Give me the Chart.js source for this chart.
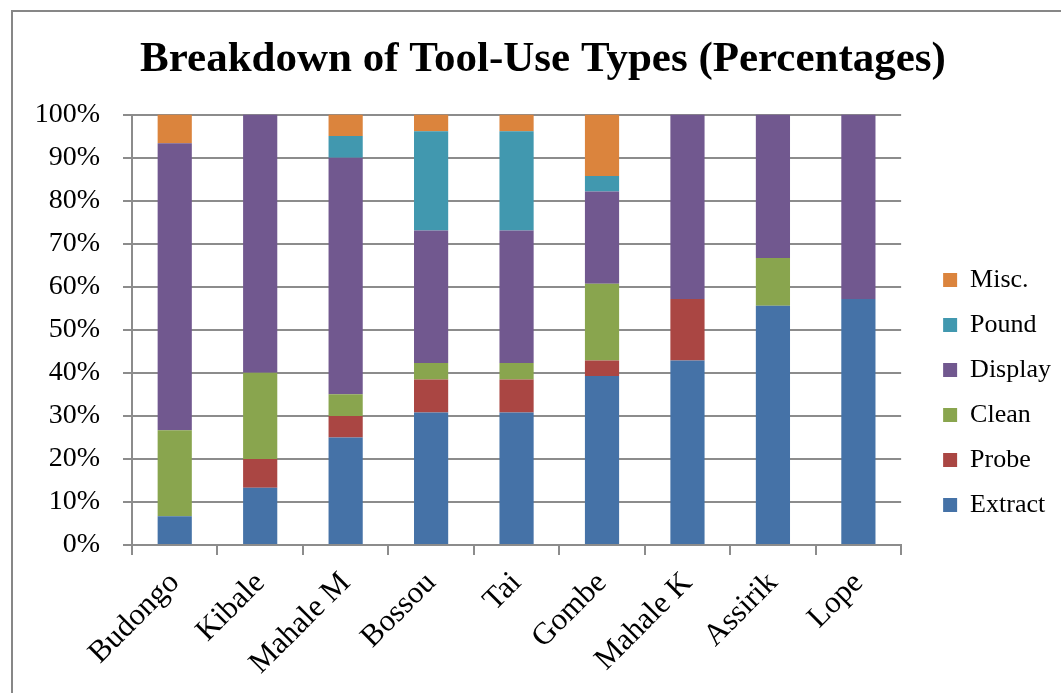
<!DOCTYPE html>
<html>
<head>
<meta charset="utf-8">
<script src="https://cdn.jsdelivr.net/npm/chart.js@4/dist/chart.umd.min.js"></script>
<style>
  html, body { margin: 0; padding: 0; background: #fff; overflow: hidden; }
  #frame { position: absolute; left: 11px; top: 10px; width: 1100px; height: 800px; border: 2px solid #878787; }
  #wrap { position: absolute; left: 0; top: 0; width: 1061px; height: 693px; }
</style>
</head>
<body>
<div id="frame"></div>
<div id="wrap"><canvas id="chart"></canvas></div>
<script>
// Sites and the share (%) of each tool-use type at each site
const sites = ['Budongo', 'Kibale', 'Mahale M', 'Bossou', 'Tai', 'Gombe', 'Mahale K', 'Assirik', 'Lope'];
const extract = [6.67, 13.33, 25, 30.77, 30.77, 39.29, 42.86, 55.56, 57.14];
const probe   = [0, 6.67, 5, 7.69, 7.69, 3.57, 14.29, 0, 0];
const clean   = [20, 20, 5, 3.85, 3.85, 17.86, 0, 11.11, 0];
const display = [66.67, 60, 55, 30.77, 30.77, 21.43, 42.86, 33.33, 42.86];
const pound   = [0, 0, 5, 23.08, 23.08, 3.57, 0, 0, 0];
const misc    = [6.67, 0, 5, 3.85, 3.85, 14.29, 0, 0, 0];
const yTicks  = [0, 10, 20, 30, 40, 50, 60, 70, 80, 90, 100];

const serif = "'Liberation Serif', 'Times New Roman', serif";
const gridGray = '#8c8c8c';

const series = [
  { label: 'Extract', data: extract, color: '#4572A7' },
  { label: 'Probe',   data: probe,   color: '#AA4643' },
  { label: 'Clean',   data: clean,   color: '#89A54E' },
  { label: 'Display', data: display, color: '#71588F' },
  { label: 'Pound',   data: pound,   color: '#4198AF' },
  { label: 'Misc.',   data: misc,    color: '#DB843D' }
];

new Chart(document.getElementById('chart'), {
  type: 'bar',
  data: {
    labels: sites,
    datasets: series.map(s => ({
      label: s.label,
      data: s.data,
      backgroundColor: s.color,
      borderWidth: 0,
      barPercentage: 0.4,
      categoryPercentage: 1.0
    }))
  },
  options: {
    responsive: true,
    maintainAspectRatio: false,
    animation: false,
    devicePixelRatio: 1,
    layout: { padding: { left: 25, right: 0, top: 0, bottom: 0 } },
    plugins: {
      title: {
        display: true,
        text: 'Breakdown of Tool-Use Types (Percentages)',
        color: '#000',
        font: { family: serif, size: 43, weight: 'bold', lineHeight: 1.2 },
        padding: { top: 34, bottom: 29 }
      },
      legend: {
        position: 'right',
        align: 'start',
        reverse: true,
        title: { display: true, text: '', font: { size: 10, lineHeight: 1 }, padding: { top: 238, bottom: 0 } },
        labels: {
          color: '#000',
          font: { family: serif, size: 26 },
          boxWidth: 14,
          boxHeight: 14,
          padding: 19
        }
      },
      tooltip: { enabled: false }
    },
    scales: {
      x: {
        stacked: true,
        offset: true,
        grid: { display: true, drawOnChartArea: false, drawTicks: true, tickLength: 10, color: gridGray, lineWidth: 2, offset: true },
        border: { display: true, color: gridGray, width: 2 },
        ticks: {
          color: '#000',
          font: { family: serif, size: 31 },
          maxRotation: 45,
          minRotation: 45,
          autoSkip: false,
          padding: 10
        },
        afterFit(scale) { scale.height = 148; }
      },
      y: {
        stacked: true,
        min: 0,
        max: 100,
        grid: { color: gridGray, lineWidth: 2, drawTicks: true, tickLength: 9 },
        border: { display: true, color: gridGray, width: 2 },
        afterBuildTicks(scale) { scale.ticks = yTicks.map(v => ({ value: v })); },
        ticks: {
          color: '#000',
          font: { family: serif, size: 28 },
          padding: 23,
          callback: v => v + '%'
        },
        afterFit(scale) { scale.width = 107; }
      },
      yPad: {
        position: 'right',
        display: true,
        grid: { display: false, drawTicks: false },
        border: { display: false },
        ticks: { display: false },
        afterFit(scale) { scale.width = 23; }
      }
    }
  }
});
</script>
</body>
</html>
